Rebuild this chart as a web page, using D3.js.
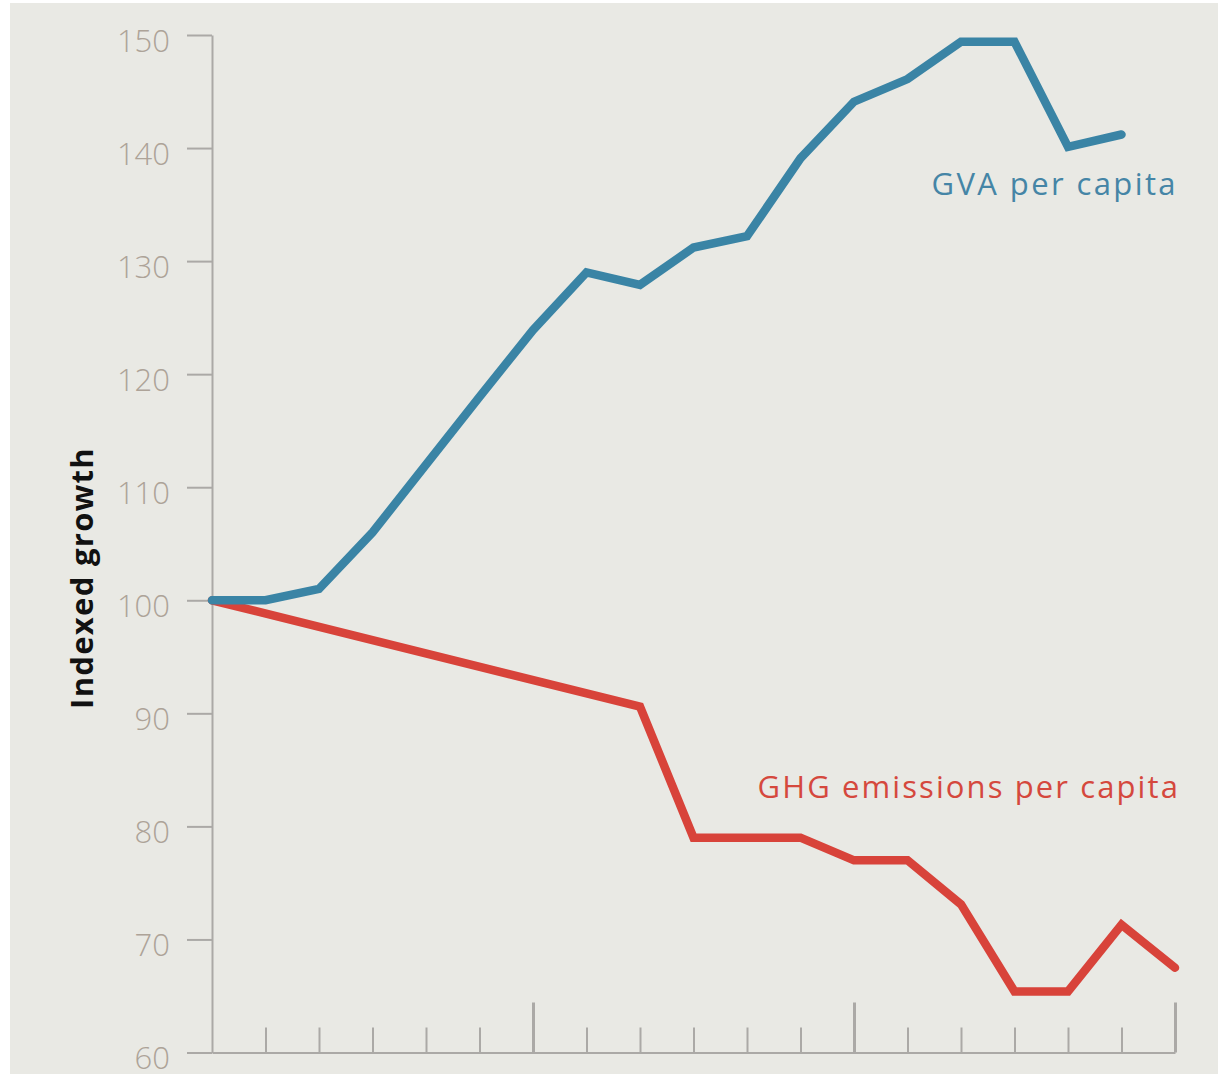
<!DOCTYPE html>
<html>
<head>
<meta charset="utf-8">
<script src="https://d3js.org/d3.v7.min.js"></script>
<style>
  body { margin: 0; padding: 0; background: #ffffff; }
  svg { display: block; }
  .ytick text { font-family: 'Open Sans', sans-serif; font-weight: 300; }
</style>
</head>
<body>
<div id="chart"></div>
<script>
    // periods along the x axis (no labels shown in the original)
    const periods = [0, 1, 2, 3, 4, 5, 6, 7, 8, 9, 10, 11, 12, 13, 14, 15, 16, 17, 18];
    const gva = [100, 100, 101, 106, 112, 118, 123.9, 129, 127.9, 131.2, 132.2, 139.1, 144.1, 146.1, 149.4, 149.4, 140.1, 141.2, null];
    const ghg = [100, null, null, null, null, null, null, null, 90.6, 79, 79, 79, 77, 77, 73.1, 65.4, 65.4, 71.3, 67.5];
    const yTicks = [60, 70, 80, 90, 100, 110, 120, 130, 140, 150];
    const majorEvery = 6;

    let width = 1218, height = 1074;
    let svg = d3.select("#chart").append("svg")
        .attr("width", width)
        .attr("height", height);

    svg.append("rect")
        .attr("x", 10).attr("y", 3)
        .attr("width", width - 10).attr("height", height - 3)
        .attr("fill", "#e9e9e4");

    let x = d3.scaleLinear().domain([0, 18]).range([212, 1175]);
    let y = d3.scaleLinear().domain([60, 150]).range([1052.5, 35]);

    let axisColor = "#aba9a6";

    // y axis
    let yAxis = svg.append("g")
        .attr("transform", "translate(212,0)")
        .call(d3.axisLeft(y).tickValues(yTicks).tickSize(25).tickSizeOuter(0).tickPadding(17));
    yAxis.select(".domain").attr("stroke", axisColor).attr("stroke-width", 2);
    yAxis.selectAll(".tick").attr("class", "tick ytick");
    yAxis.selectAll(".tick line").attr("stroke", axisColor).attr("stroke-width", 2);
    yAxis.selectAll(".tick text")
        .attr("fill", "#ada398")
        .attr("font-size", 31)
        .attr("dy", "0.52em");

    // x axis, ticks pointing up
    let xAxis = svg.append("g")
        .attr("transform", "translate(0,1052.5)")
        .call(d3.axisTop(x).tickValues(periods).tickSize(25).tickSizeOuter(0).tickFormat(""));
    xAxis.select(".domain").attr("stroke", axisColor).attr("stroke-width", 2);
    xAxis.selectAll(".tick line")
        .attr("stroke", axisColor)
        .attr("y2", function(d) { return d % majorEvery === 0 ? -50 : -25; })
        .attr("stroke-width", function(d) { return d % majorEvery === 0 ? 3 : 2; })
        .style("display", function(d) { return d === 0 ? "none" : null; });

    let line = d3.line()
        .x(function(d) { return x(d.i); })
        .y(function(d) { return y(d.v); });

    function series(vals) {
        return vals.map(function(v, i) { return {i: periods[i], v: v}; })
            .filter(function(d) { return d.v !== null; });
    }

    svg.append("path")
        .datum(series(ghg))
        .attr("d", line)
        .attr("fill", "none")
        .attr("stroke", "#d8433a")
        .attr("stroke-width", 8.5)
        .attr("stroke-linecap", "round")
        .attr("stroke-linejoin", "miter");

    svg.append("path")
        .datum(series(gva))
        .attr("d", line)
        .attr("fill", "none")
        .attr("stroke", "#3a84a5")
        .attr("stroke-width", 8.5)
        .attr("stroke-linecap", "round")
        .attr("stroke-linejoin", "miter");

    // series labels
    svg.append("text")
        .attr("x", 1178).attr("y", 195)
        .attr("text-anchor", "end")
        .attr("font-family", "'Open Sans', sans-serif")
        .attr("font-size", 31)
        .attr("letter-spacing", 2.4)
        .attr("fill", "#4585a6")
        .text("GVA per capita");

    svg.append("text")
        .attr("x", 1180).attr("y", 798)
        .attr("text-anchor", "end")
        .attr("font-family", "'Open Sans', sans-serif")
        .attr("font-size", 31)
        .attr("letter-spacing", 2.1)
        .attr("fill", "#d5483d")
        .text("GHG emissions per capita");

    // y axis title
    svg.append("text")
        .attr("transform", "translate(93,578) rotate(-90)")
        .attr("text-anchor", "middle")
        .attr("font-family", "'Open Sans', sans-serif")
        .attr("font-weight", 700)
        .attr("font-size", 31)
        .attr("letter-spacing", 1.3)
        .attr("fill", "#111111")
        .text("Indexed growth");
</script>
</body>
</html>
